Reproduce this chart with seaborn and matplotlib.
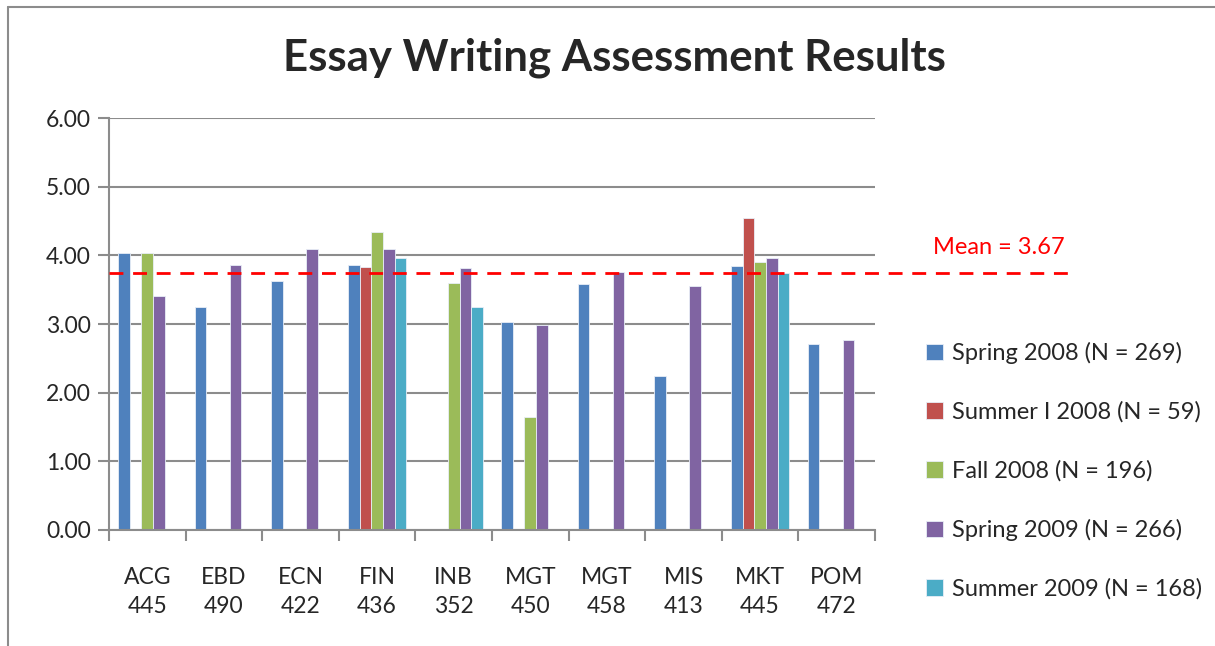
import numpy as np
import pandas as pd
import seaborn as sns
import matplotlib.pyplot as plt
from matplotlib.lines import Line2D
from matplotlib.ticker import FormatStrFormatter

COURSES = ['ACG\n445', 'EBD\n490', 'ECN\n422', 'FIN\n436', 'INB\n352',
           'MGT\n450', 'MGT\n458', 'MIS\n413', 'MKT\n445', 'POM\n472']
TERMS = ['Spring 2008 (N = 269)', 'Summer I 2008 (N = 59)',
         'Fall 2008 (N = 196)', 'Spring 2009 (N = 266)',
         'Summer 2009 (N = 168)']
nan = np.nan
spring08 = [4.03, 3.25, 3.62, 3.86, nan, 3.03, 3.58, 2.25, 3.84, 2.71]
summer08 = [nan, nan, nan, 3.83, nan, nan, nan, nan, 4.55, nan]
fall08 = [4.03, nan, nan, 4.34, 3.59, 1.65, nan, nan, 3.90, nan]
spring09 = [3.41, 3.86, 4.09, 4.09, 3.81, 2.99, 3.76, 3.56, 3.96, 2.77]
summer09 = [nan, nan, nan, 3.96, 3.25, nan, nan, nan, 3.75, nan]
MEAN_LINE = 3.75
MEAN_LABEL = 'Mean = 3.67'

COLORS = ['#4F81BD', '#C0504D', '#9BBB59', '#8064A2', '#4BACC6']
GRID = '#8c8c8c'


def build_df():
    rows = []
    for term, vals in zip(TERMS, [spring08, summer08, fall08, spring09, summer09]):
        for course, v in zip(COURSES, vals):
            rows.append({'course': course, 'term': term, 'score': v})
    return pd.DataFrame(rows)


def main():
    sns.set_style('white')
    plt.rcParams['font.family'] = ['Lato', 'DejaVu Sans']
    df = build_df()

    W, H = 1215, 646
    fig = plt.figure(figsize=(W / 100, H / 100), dpi=100)
    # outer chart border (left + top only visible)
    fig.add_artist(Line2D([8 / W, 8 / W], [0, 1 - 7 / H], color=GRID, lw=1.5))
    fig.add_artist(Line2D([8 / W, 1], [1 - 7 / H, 1 - 7 / H], color=GRID, lw=1.5))

    ax = fig.add_axes([109 / W, 1 - 530 / H, (875 - 109) / W, (530 - 118) / H])
    sns.barplot(data=df, x='course', y='score', hue='term', order=COURSES,
                hue_order=TERMS, palette=COLORS, width=0.76, ax=ax,
                saturation=1, edgecolor='#e8eef7', linewidth=0.6,
                errorbar=None)

    ax.set_ylim(0, 6)
    ax.set_xlim(-0.5, len(COURSES) - 0.5)
    ax.set_yticks(np.arange(0, 7, 1))
    ax.yaxis.set_major_formatter(FormatStrFormatter('%.2f'))
    ax.yaxis.grid(True, color=GRID, lw=1.5)
    ax.set_axisbelow(True)
    for s in ['top', 'right']:
        ax.spines[s].set_visible(False)
    for s in ['left', 'bottom']:
        ax.spines[s].set_color(GRID)
        ax.spines[s].set_linewidth(1.5)
    ax.tick_params(axis='y', left=True, length=8, width=1.5, color=GRID,
                   labelsize=16.5, pad=5)
    ax.set_xticks(np.arange(-0.5, len(COURSES), 1), minor=True)
    ax.tick_params(axis='x', which='minor', bottom=True, length=8, width=1.5,
                   color=GRID)
    ax.tick_params(axis='x', which='major', length=0, labelsize=16.5, pad=27)
    for lab in ax.get_xticklabels():
        lab.set_linespacing(1.45)
    ax.set_xlabel('')
    ax.set_ylabel('')

    # dashed mean line runs past the plot area into the legend column
    ax.plot([-0.5, len(COURSES) - 0.5 + 2.6], [MEAN_LINE] * 2,
            color='red', ls=(0, (5, 3.5)), lw=2, clip_on=False, zorder=5)
    fig.text(933 / W, 1 - 248 / H, MEAN_LABEL, color='red', fontsize=17,
             va='center', ha='left')

    fig.text(614 / W, 1 - 58 / H, 'Essay Writing Assessment Results',
             fontsize=31.5, fontweight='bold', ha='center', va='center')

    handles, labels = ax.get_legend_handles_labels()
    ax.legend(handles, labels, loc='upper left',
              bbox_to_anchor=(926 / W, 1 - 342 / H),
              bbox_transform=fig.transFigure, frameon=False, fontsize=17,
              handlelength=0.7, handleheight=0.7, handletextpad=0.4,
              labelspacing=1.58, borderaxespad=0, borderpad=0)

    plt.savefig('out.png', dpi=100)


if __name__ == '__main__':
    main()
